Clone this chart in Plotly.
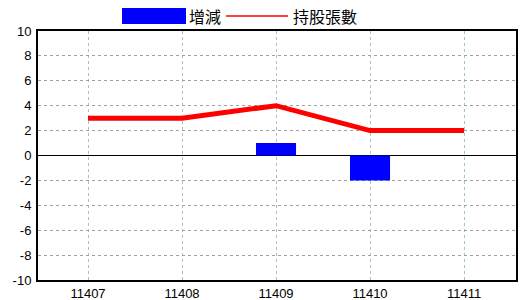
import plotly.graph_objects as go

categories = ["11407", "11408", "11409", "11410", "11411"]
change_values = [0, 0, 1, -2, 0]
holding_values = [3, 3, 4, 2, 2]
y_ticks = [10, 8, 6, 4, 2, 0, -2, -4, -6, -8, -10]

fig = go.Figure()
fig.add_trace(go.Bar(
    x=categories, y=change_values, name="增減",
    marker=dict(color="#0000ff", line=dict(width=0)), width=0.426,
))
fig.add_trace(go.Scatter(
    x=categories, y=holding_values, name="持股張數", mode="lines",
    line=dict(color="#ff0000", width=5),
))

num_font = dict(family="Liberation Sans Narrow, Arial Narrow, Liberation Sans, sans-serif", size=13, color="black")

fig.update_layout(
    width=520, height=300,
    margin=dict(l=38, r=4, t=31, b=20, autoexpand=False),
    paper_bgcolor="white", plot_bgcolor="white",
    showlegend=False,
    xaxis=dict(
        type="category", range=[-0.532, 4.553], automargin=False,
        showgrid=True, gridcolor="#9fc3d3", griddash="dot", gridwidth=1,
        showline=True, linecolor="black", linewidth=2, mirror=True,
        ticks="", tickfont=num_font, zeroline=False, fixedrange=True,
    ),
    yaxis=dict(
        range=[-10, 10], tickvals=y_ticks, ticktext=[str(v) for v in y_ticks],
        automargin=False,
        showgrid=True, gridcolor="#a0a0a0", griddash="dot", gridwidth=1,
        showline=True, linecolor="black", linewidth=2, mirror=True,
        zeroline=True, zerolinecolor="black", zerolinewidth=1,
        ticks="", tickfont=num_font, ticklabelstandoff=2, fixedrange=True,
    ),
    shapes=[
        dict(type="rect", xref="paper", yref="paper",
             x0=(122 - 38) / 478, x1=(186 - 38) / 478,
             y0=(280 - 24) / 249, y1=(280 - 8) / 249,
             fillcolor="#0000ff", line=dict(width=0)),
        dict(type="line", xref="paper", yref="paper",
             x0=(226 - 38) / 478, x1=(288 - 38) / 478,
             y0=(280 - 16) / 249, y1=(280 - 16) / 249,
             line=dict(color="#ff0000", width=1.5)),
    ],
    annotations=[
        dict(text="增減", xref="paper", yref="paper",
             x=(187 - 38) / 478, y=(280 - 16) / 249, xanchor="left", yanchor="middle",
             showarrow=False, font=dict(family="Noto Sans CJK TC", size=16, color="black")),
        dict(text="持股張數", xref="paper", yref="paper",
             x=(291 - 38) / 478, y=(280 - 16) / 249, xanchor="left", yanchor="middle",
             showarrow=False, font=dict(family="Noto Sans CJK TC", size=16, color="black")),
    ],
)

fig.write_html("out.html")
